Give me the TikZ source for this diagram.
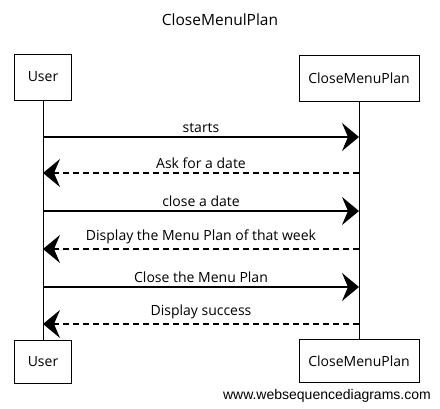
\documentclass[tikz,border=0pt]{standalone}
\usepackage{fontspec}
\setmainfont{Open Sans}
\newfontfamily\sitefont{Liberation Sans}
\usetikzlibrary{arrows.meta,positioning}
\tikzset{
	actor/.style = {rectangle, draw=black, line width=0.9pt, minimum height=46pt, align=center, font=\fontsize{14}{16}\selectfont},
	lifeline/.style = {draw=black, line width=0.8pt},
	msg/.style = {draw=black, line width=1.3pt, -{Stealth[length=17pt,width=28pt,inset=6pt]}},
	reply/.style = {msg, dash pattern=on 6pt off 4pt},
	msglabel/.style = {above=3pt, inner sep=1pt, font=\fontsize{14}{16}\selectfont}
}

\begin{document}
\begin{tikzpicture}[x=1pt,y=-1pt]
	\useasboundingbox (0,0) rectangle (440,408);
	% title and participants
	\node [font=\fontsize{15.5}{18}\selectfont] (title) at (220,20) {CloseMenulPlan};
	\node [actor, minimum width=57pt] (usertop) at (43,77) {User};
	\node [actor, minimum width=120pt] (plantop) at (359,78) {CloseMenuPlan};
	\node [actor, minimum width=57pt, minimum height=43pt] (userbot) at (43,361.5) {User};
	\node [actor, minimum width=120pt, minimum height=43pt] (planbot) at (359,361) {CloseMenuPlan};
	\draw [lifeline] (usertop) -- (userbot);
	\draw [lifeline] (plantop) -- (planbot);
	% messages
	\draw [msg] (usertop |- 0,137) -- node [msglabel] (m1) {starts} (plantop |- 0,137);
	\draw [reply] (plantop |- 0,173) -- node [msglabel] (m2) {Ask for a date} (usertop |- 0,173);
	\draw [msg] (usertop |- 0,211) -- node [msglabel] (m3) {close a date} (plantop |- 0,211);
	\draw [reply] (plantop |- 0,249) -- node [msglabel] (m4) {Display the Menu Plan of that week} (usertop |- 0,249);
	\draw [msg] (usertop |- 0,287) -- node [msglabel] (m5) {Close the Menu Plan} (plantop |- 0,287);
	\draw [reply] (plantop |- 0,324) -- node [msglabel] (m6) {Display success} (usertop |- 0,324);
	% footer
	\node [anchor=east, inner sep=0pt, font=\sitefont\fontsize{14}{16}\selectfont] (site) at (431,396) {www.websequencediagrams.com};
\end{tikzpicture}
\end{document}
